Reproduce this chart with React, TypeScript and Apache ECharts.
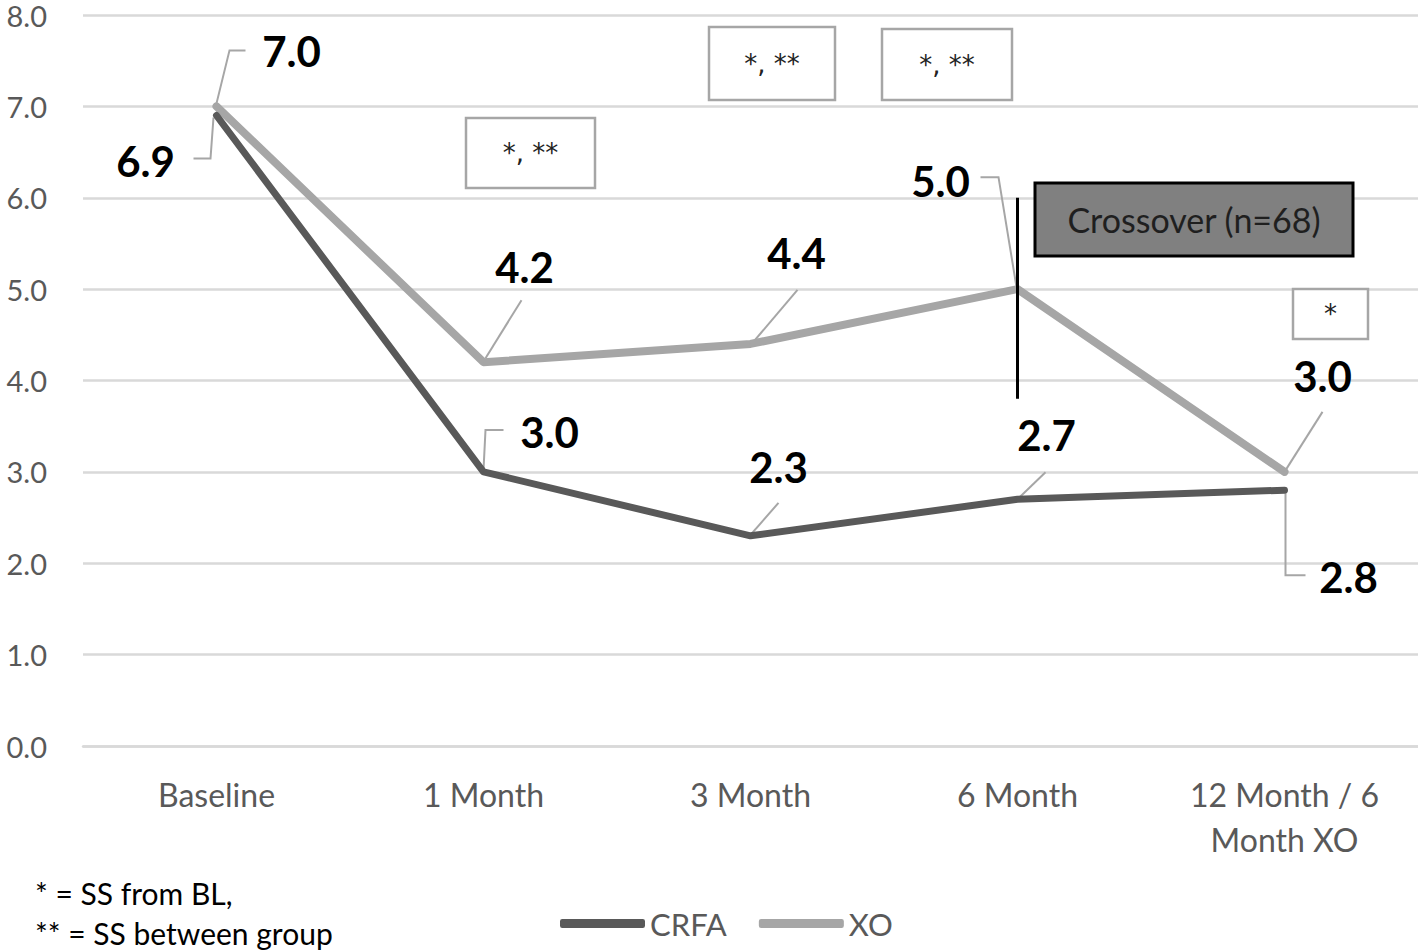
import React, { useEffect, useRef } from 'react';
import * as echarts from 'echarts';

const categories = ['Baseline', '1 Month', '3 Month', '6 Month', '12 Month / 6\nMonth XO'];
const crfaValues = [6.9, 3.0, 2.3, 2.7, 2.8];
const xoValues = [7.0, 4.2, 4.4, 5.0, 3.0];
const seriesNames = ['CRFA', 'XO'];
const yMin = 0;
const yMax = 8;
const yInterval = 1;
const crossoverSpan = [6.0, 3.8];
const crossoverText = 'Crossover (n=68)';
const sigTexts = ['*, **', '*, **', '*, **', '*'];
const footnotes = ['* = SS from BL,', '** = SS between group'];

// layout of labels / leader lines relative to each point (pixels)
const xoLabelOffsets = [[75, -55], [41, -95], [46, -91], [-77, -108], [38, -96]];
const crfaLabelOffsets = [[-71, 45], [66, -40], [28, -69], [29, -64], [64, 87]];
const xoLeaders = [
  [[0, -3], [13, -56], [29, -56]],
  [[2, -4], [38, -62]],
  [[2, -1], [47, -54]],
  [[-1, -2], [-19, -112], [-37, -112]],
  [[0, 0], [38, -60]],
];
const crfaLeaders = [
  [[-3, 2], [-6, 43], [-23, 43]],
  [[0, -2], [2, -42], [20, -42]],
  [[0, -1], [28, -33]],
  [[0, 0], [28, -27]],
  [[1, 3], [1, 85], [21, 85]],
];
const sigBoxes = [
  [466, 118, 129, 70],
  [709, 27, 126, 73],
  [882, 29, 130, 71],
  [1293, 289, 75, 50],
];
const crossoverBox = [1035, 183, 318, 73];

const FONT = 'Lato, "Open Sans", sans-serif';
const DARK = '#595959';
const LIGHT = '#a6a6a6';

export default function App() {
  const ref = useRef<HTMLDivElement>(null);
  useEffect(() => {
    if (!ref.current) return;
    const chart = echarts.init(ref.current, undefined, { renderer: 'svg' });
    const mkData = (vals: number[], offs: number[][]) =>
      vals.map((v, i) => ({
        value: v,
        label: { offset: offs[i] },
      }));
    const labelStyle = {
      show: true,
      position: 'inside',
      formatter: (p: any) => Number(p.value).toFixed(1),
      fontSize: 42,
      fontWeight: 'bold',
      fontFamily: FONT,
      color: '#000',
    };
    chart.setOption({
      animation: false,
      grid: { left: 83, right: 0, top: 15, bottom: 206, containLabel: false },
      legend: {
        data: seriesNames,
        left: 555,
        top: 903,
        itemWidth: 85,
        itemHeight: 9,
        itemGap: 32,
        icon: 'roundRect',
        textStyle: { fontSize: 31, color: DARK, fontFamily: FONT },
      },
      xAxis: {
        type: 'category',
        data: categories,
        boundaryGap: true,
        axisTick: { show: false },
        axisLine: { show: true, lineStyle: { color: '#d9d9d9', width: 2.5 } },
        axisLabel: { color: DARK, fontSize: 32, fontFamily: FONT, margin: 26, lineHeight: 45, interval: 0 },
      },
      yAxis: {
        type: 'value',
        min: yMin,
        max: yMax,
        interval: yInterval,
        axisLine: { show: false },
        axisTick: { show: false },
        splitLine: { lineStyle: { color: '#d9d9d9', width: 2.5 } },
        axisLabel: {
          color: DARK,
          fontSize: 29,
          lineHeight: 26,
          fontFamily: FONT,
          margin: 36,
          formatter: (v: number) => v.toFixed(1),
        },
      },
      series: [
        {
          name: seriesNames[1],
          type: 'line',
          data: mkData(xoValues, xoLabelOffsets),
          symbol: 'circle',
          symbolSize: 1,
          showSymbol: true,
          itemStyle: { color: LIGHT },
          lineStyle: { color: LIGHT, width: 8, cap: 'round', join: 'round' },
          label: labelStyle,
          z: 2,
          markLine: {
            silent: true,
            symbol: 'none',
            label: { show: false },
            lineStyle: { color: '#000', width: 3, type: 'solid' },
            data: [[
              { coord: [categories[3], crossoverSpan[0]] },
              { coord: [categories[3], crossoverSpan[1]] },
            ]],
          },
        },
        {
          name: seriesNames[0],
          type: 'line',
          data: mkData(crfaValues, crfaLabelOffsets),
          symbol: 'circle',
          symbolSize: 1,
          showSymbol: true,
          itemStyle: { color: DARK },
          lineStyle: { color: DARK, width: 7, cap: 'round', join: 'round' },
          label: labelStyle,
          z: 3,
        },
      ],
    });

    const graphics: any[] = [];
    const addLeaders = (vals: number[], leaders: number[][][]) => {
      vals.forEach((v, i) => {
        const p = chart.convertToPixel({ gridIndex: 0 }, [i, v]) as number[];
        graphics.push({
          type: 'polyline',
          shape: { points: leaders[i].map(([dx, dy]) => [p[0] + dx, p[1] + dy]) },
          style: { stroke: LIGHT, lineWidth: 2, fill: null },
          z: 1,
          silent: true,
        });
      });
    };
    addLeaders(xoValues, xoLeaders);
    addLeaders(crfaValues, crfaLeaders);

    sigBoxes.forEach(([x, y, w, h], i) => {
      graphics.push({
        type: 'rect',
        shape: { x, y, width: w, height: h },
        style: { fill: '#fff', stroke: LIGHT, lineWidth: 2.5 },
        z: 5,
      });
      graphics.push({
        type: 'text',
        x: x + w / 2,
        y: y + h / 2,
        style: {
          text: sigTexts[i],
          fill: '#222',
          font: '26px "DejaVu Sans", sans-serif',
          align: 'center',
          verticalAlign: 'middle',
          textAlign: 'center',
          textVerticalAlign: 'middle',
        },
        z: 6,
      });
    });

    const [cx, cy, cw, ch] = crossoverBox;
    graphics.push({
      type: 'rect',
      shape: { x: cx, y: cy, width: cw, height: ch },
      style: { fill: '#808080', stroke: '#000', lineWidth: 3 },
      z: 5,
    });
    graphics.push({
      type: 'text',
      x: cx + cw / 2,
      y: cy + ch / 2,
      style: {
        text: crossoverText,
        fill: '#1f1f1f',
        font: `34px ${FONT}`,
        align: 'center',
        verticalAlign: 'middle',
        textAlign: 'center',
        textVerticalAlign: 'middle',
      },
      z: 6,
    });

    footnotes.forEach((t, i) => {
      graphics.push({
        type: 'text',
        x: 35,
        y: 893 + i * 40,
        style: {
          text: t,
          fill: '#000',
          font: `30px ${FONT}`,
          align: 'left',
          verticalAlign: 'middle',
          textAlign: 'left',
          textVerticalAlign: 'middle',
        },
        z: 6,
      });
    });

    chart.setOption({ graphic: graphics });

    return () => chart.dispose();
  }, []);

  return (
    <div
      ref={ref}
      style={{ position: 'fixed', left: 0, top: 0, width: 1418, height: 952, background: '#fff' }}
    />
  );
}
